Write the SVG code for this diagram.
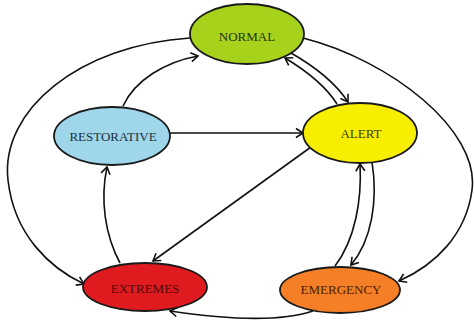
<svg xmlns="http://www.w3.org/2000/svg" width="474" height="322" viewBox="0 0 474 322">
<defs>
<marker id="arr" markerUnits="userSpaceOnUse" markerWidth="14" markerHeight="14" refX="0" refY="0" viewBox="-10 -7 12 14" orient="auto">
<path d="M-7,-4.5 L0,0 L-7,4.5" fill="none" stroke="#111" stroke-width="1.6"/>
</marker>
</defs>
<style>
.node ellipse{stroke:#1a1a1a;stroke-width:1.8}
.node text{font-family:"Liberation Serif","Times New Roman",serif;font-size:13px;text-anchor:middle}
#connectors path{fill:none;stroke:#111;stroke-width:1.6;marker-end:url(#arr)}
</style>
<rect width="474" height="322" fill="#fff"/>
<g id="connectors">
<path d="M190,38 C80,45 0,110 8,180 C14,235 50,268 84,284"/>
<path d="M123,106 C135,80 165,62 198,56"/>
<path d="M170,133 L303,133"/>
<path d="M337,104 C325,85 305,70 285,58"/>
<path d="M291,53 C312,65 335,82 348,102"/>
<path d="M303,38 C390,60 480,130 472,190 C466,235 435,265 399,281"/>
<path d="M311,147 L153,261"/>
<path d="M120,263 C105,235 100,200 107,167"/>
<path d="M335,266 C355,240 362,200 360,164"/>
<path d="M372,162 C378,200 372,240 351,265"/>
<path d="M313,311 C280,322 230,320 170,311"/>
</g>
<g id="normal" class="node">
<ellipse cx="247" cy="34" rx="57" ry="30" fill="#a6d21c"/>
<text x="247" y="41" fill="#25320c">NORMAL</text>
</g>
<g id="restorative" class="node">
<ellipse cx="112" cy="136" rx="58" ry="29" fill="#9fd6ea"/>
<text x="113" y="141" fill="#1a303c">RESTORATIVE</text>
</g>
<g id="alert" class="node">
<ellipse cx="360" cy="133" rx="57" ry="30" fill="#f7ee00"/>
<text x="361" y="138" fill="#3e3700">ALERT</text>
</g>
<g id="extremes" class="node">
<ellipse cx="145" cy="287" rx="62" ry="24" fill="#e01b1f"/>
<text x="145" y="293" fill="#520808">EXTREMES</text>
</g>
<g id="emergency" class="node">
<ellipse cx="340" cy="290" rx="60" ry="23" fill="#f47f26"/>
<text x="341" y="294" fill="#4e2005">EMERGENCY</text>
</g>
</svg>
